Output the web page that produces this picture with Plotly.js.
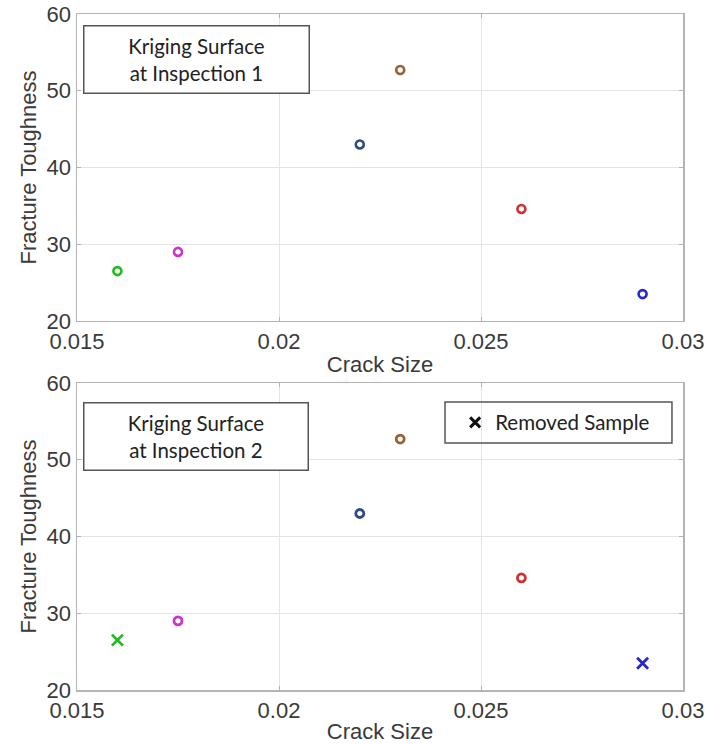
<!DOCTYPE html>
<html>
<head>
<meta charset="utf-8">
<script src="https://cdn.plot.ly/plotly-3.0.1.min.js"></script>
<style>html,body{margin:0;padding:0;background:#fff;}#chart{width:714px;height:744px;}</style>
</head>
<body>
<div id="chart"></div>
<script>
// Data
const crackSize = [0.016, 0.0175, 0.022, 0.023, 0.026, 0.029];
const toughness = [26.5, 29.0, 43.0, 52.7, 34.6, 23.5];
const pointColors = ['#22bb22', '#cc33cc', '#2d4c80', '#985f33', '#d03030', '#2828c8'];
const symbolsInsp1 = ['circle-open', 'circle-open', 'circle-open', 'circle-open', 'circle-open', 'circle-open'];
const symbolsInsp2 = ['x-thin', 'circle-open', 'circle-open', 'circle-open', 'circle-open', 'x-thin'];
const sizesInsp1 = [8, 8, 8, 8, 8, 8];
const sizesInsp2 = [11, 8, 8, 8, 8, 11];
const xTicks = [0.015, 0.02, 0.025, 0.03];
const yTicks = [20, 30, 40, 50, 60];
const boxLabels = ['Kriging Surface<br>at Inspection 1', 'Kriging Surface<br>at Inspection 2'];
const legendLabel = 'Removed Sample';

const axisFont = {family: 'Liberation Sans, Arial, sans-serif', size: 22, color: '#3a3a3a'};
const labelFont = {family: 'Lato, sans-serif', size: 20.5, color: '#222'};

function xAxis(anchor) {
  return {
    anchor: anchor, range: [0.015, 0.03], tickvals: xTicks, ticktext: xTicks.map(String),
    showgrid: true, gridcolor: '#e4e4e4', zeroline: false,
    showline: true, mirror: 'ticks', linecolor: '#b4b4b4', linewidth: 1.5,
    ticks: 'inside', ticklen: 4, tickcolor: '#b4b4b4',
    tickfont: axisFont,
    title: {text: 'Crack Size', font: axisFont, standoff: 3}
  };
}
function yAxis(anchor, domain) {
  return {
    anchor: anchor, domain: domain, range: [20, 60], tickvals: yTicks,
    showgrid: true, gridcolor: '#e4e4e4', zeroline: false,
    showline: true, mirror: 'ticks', linecolor: '#b4b4b4', linewidth: 1.5,
    ticks: 'inside', ticklen: 4, tickcolor: '#b4b4b4',
    tickfont: axisFont,
    title: {text: 'Fracture Toughness', font: axisFont, standoff: 4}
  };
}

const traces = [
  {
    x: crackSize, y: toughness, xaxis: 'x', yaxis: 'y', mode: 'markers', type: 'scatter', showlegend: false,
    marker: {symbol: symbolsInsp1, size: sizesInsp1, color: pointColors, opacity: 1, line: {color: pointColors, width: 2.6}}
  },
  {
    x: crackSize, y: toughness, xaxis: 'x2', yaxis: 'y2', mode: 'markers', type: 'scatter', showlegend: false,
    marker: {symbol: symbolsInsp2, size: sizesInsp2, color: pointColors, opacity: 1, line: {color: pointColors, width: 2.8}}
  },
  {
    x: [null], y: [null], xaxis: 'x2', yaxis: 'y2', mode: 'markers', type: 'scatter', name: legendLabel, showlegend: true,
    marker: {symbol: 'x-thin', size: 10, color: '#111', line: {color: '#111', width: 3}}
  }
];

const layout = {
  width: 714, height: 744,
  margin: {l: 77, r: 31, t: 14, b: 54},
  paper_bgcolor: '#fff', plot_bgcolor: '#fff',
  xaxis: xAxis('y'),
  yaxis: yAxis('x', [0.5459, 1]),
  xaxis2: xAxis('y2'),
  yaxis2: yAxis('x2', [0, 0.4541]),
  showlegend: true,
  legend: {
    x: 0.624, xanchor: 'left', y: 0.3957, yanchor: 'middle',
    bgcolor: 'rgba(0,0,0,0)', borderwidth: 0, font: labelFont
  },
  shapes: [
    {type: 'rect', xref: 'paper', yref: 'paper', x0: 0.6073, x1: 0.9818, y0: 0.3654, y1: 0.426,
     line: {color: '#555', width: 1.5}, fillcolor: 'rgba(0,0,0,0)'}
  ],
  annotations: [
    {xref: 'x domain', yref: 'y domain', x: 0.0099, y: 0.964, xanchor: 'left', yanchor: 'top',
     text: boxLabels[0], showarrow: false, align: 'center', font: labelFont,
     width: 222, height: 64, bordercolor: '#555', borderwidth: 1.5, borderpad: 1, bgcolor: '#fff'},
    {xref: 'x2 domain', yref: 'y2 domain', x: 0.0099, y: 0.938, xanchor: 'left', yanchor: 'top',
     text: boxLabels[1], showarrow: false, align: 'center', font: labelFont,
     width: 221, height: 64, bordercolor: '#555', borderwidth: 1.5, borderpad: 1, bgcolor: '#fff'}
  ]
};

Plotly.newPlot('chart', traces, layout, {displayModeBar: false, staticPlot: true});
</script>
</body>
</html>
